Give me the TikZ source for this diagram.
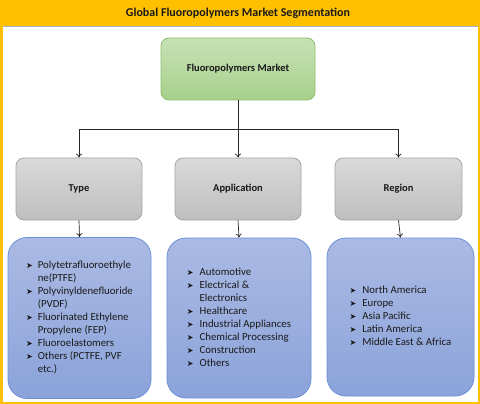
\documentclass[tikz,border=0pt]{standalone}
\usepackage{fontspec}
\setmainfont{Carlito}
\newfontfamily\symfont{DejaVu Sans}
\usetikzlibrary{arrows.meta}
\definecolor{hdr}{HTML}{FFC000}
\definecolor{hdrline}{HTML}{A5B4C4}
\definecolor{grtop}{HTML}{C7E2B6}
\definecolor{grbot}{HTML}{A6D08A}
\definecolor{grdraw}{HTML}{8DBF6E}
\definecolor{gytop}{HTML}{DADADA}
\definecolor{gybot}{HTML}{BEBEBE}
\definecolor{gydraw}{HTML}{A6A6A6}
\definecolor{bltop}{HTML}{ABBAE4}
\definecolor{blbot}{HTML}{8BA3DA}
\definecolor{bldraw}{HTML}{6A8FD8}
\newcommand{\bul}{{\symfont\fontsize{8}{8}\selectfont ➤}}
\begin{document}
\begin{tikzpicture}[x=1pt,y=-1pt,
  title/.style={font=\fontsize{12}{13}\selectfont\bfseries, text=black!90},
  greenbox/.style={draw=grdraw, line width=0.8pt, rounded corners=8pt, top color=grtop, bottom color=grbot, font=\fontsize{10.5}{12}\selectfont\bfseries, text=black!90},
  graybox/.style={draw=gydraw, line width=0.8pt, rounded corners=8pt, top color=gytop, bottom color=gybot, minimum width=126pt, minimum height=62pt, font=\fontsize{10.5}{12}\selectfont\bfseries, text=black!90},
  bluebox/.style={draw=bldraw, line width=0.8pt, rounded corners=19pt, top color=bltop, bottom color=blbot, font=\fontsize{10.8}{13}\selectfont, text=black!90, inner sep=0pt},
  conn/.style={draw=black!85, line width=0.7pt},
  arr/.style={conn, -{To[length=4pt,width=6pt]}}]
\useasboundingbox (0,0) rectangle (480,404);
\fill[hdr] (0,0) rectangle (480,404);
\fill[white] (2.5,26) rectangle (477.5,401.5);
\draw[hdrline, line width=0.8pt] (2.5,26) -- (477.5,26);
\node[title] (ttl) at (238,13) {Global Fluoropolymers Market Segmentation};

\node[greenbox, minimum width=154pt, minimum height=62pt] (market) at (238,69) {Fluoropolymers Market};

\node[graybox] (type) at (79,189) {Type};
\node[graybox] (app) at (238,189) {Application};
\node[graybox, minimum width=127pt] (region) at (398.5,189) {Region};

\node[bluebox, minimum width=143pt, minimum height=161pt] (typelist) at (79.5,318) {%
\begin{tabular}{@{}l@{\hspace{5pt}}l@{}}
\bul & Polytetrafluoroethyle\\
 & ne(PTFE)\\
\bul & Polyvinyldenefluoride\\
 & (PVDF)\\
\bul & Fluorinated Ethylene\\
 & Propylene (FEP)\\
\bul & Fluoroelastomers\\
\bul & Others (PCTFE, PVF\\
 & etc.)
\end{tabular}};

\node[bluebox, minimum width=144pt, minimum height=160pt] (applist) at (239,318) {%
\begin{tabular}{@{}l@{\hspace{6pt}}l@{}}
\bul & Automotive\\
\bul & Electrical \&\\
 & Electronics\\
\bul & Healthcare\\
\bul & Industrial Appliances\\
\bul & Chemical Processing\\
\bul & Construction\\
\bul & Others
\end{tabular}};

\node[bluebox, minimum width=147pt, minimum height=158pt] (regionlist) at (400.5,317) {%
\begin{tabular}{@{}l@{\hspace{6pt}}l@{}}
\bul & North America\\
\bul & Europe\\
\bul & Asia Pacific\\
\bul & Latin America\\
\bul & Middle East \& Africa
\end{tabular}};

\coordinate (bus) at (0,129);
\draw[conn] (type.north |- bus) -- (region.north |- bus);
\draw[arr] (market.south) -- (app.north);
\draw[arr] (type.north |- bus) -- (type.north);
\draw[arr] (region.north |- bus) -- (region.north);
\draw[arr] (type.south) -- (typelist.north);
\draw[arr] (app.south) -- (applist.north);
\draw[arr] (region.south) -- (regionlist.north);
\end{tikzpicture}
\end{document}
